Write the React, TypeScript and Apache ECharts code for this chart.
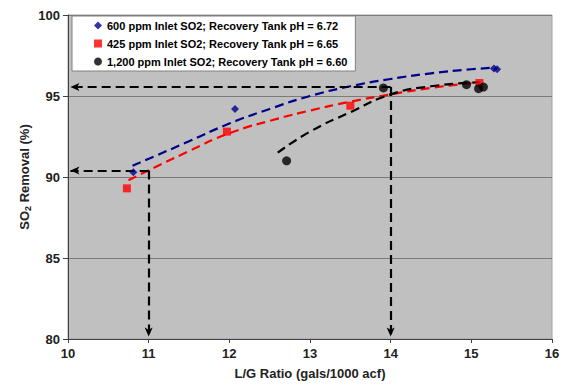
import React, { useEffect, useRef } from "react";
import * as echarts from "echarts";

const seriesNames = [
  "600 ppm Inlet SO2; Recovery Tank pH = 6.72",
  "425 ppm Inlet SO2; Recovery Tank pH = 6.65",
  "1,200 ppm Inlet SO2; Recovery Tank pH = 6.60",
];

const points600: [number, number][] = [
  [10.81, 90.3],
  [12.07, 94.2],
  [15.28, 96.7],
  [15.32, 96.65],
];
const points425: [number, number][] = [
  [10.73, 89.3],
  [11.97, 92.8],
  [13.5, 94.4],
  [15.1, 95.8],
];
const points1200: [number, number][] = [
  [12.71, 91.0],
  [13.91, 95.5],
  [14.94, 95.7],
  [15.09, 95.45],
  [15.15, 95.55],
];

const trend600: [number, number][] = [
  [10.8, 90.7], [11.5, 92.2], [12.0, 93.3], [12.5, 94.2], [13.0, 95.0],
  [13.5, 95.6], [14.0, 96.05], [14.5, 96.4], [15.0, 96.65], [15.3, 96.75],
];
const trend425: [number, number][] = [
  [10.75, 89.8], [11.5, 91.6], [12.0, 92.7], [12.6, 93.6], [13.0, 94.1],
  [13.5, 94.65], [14.0, 95.1], [14.5, 95.5], [15.1, 95.85],
];
const trend1200: [number, number][] = [
  [12.6, 91.5], [13.0, 92.8], [13.5, 94.0], [14.0, 95.1], [14.5, 95.6], [15.1, 95.85],
];

const refLines: [number, number][][] = [
  [[14.0, 95.55], [10.03, 95.55]],
  [[14.0, 95.55], [14.0, 80.15]],
  [[11.0, 90.4], [10.03, 90.4]],
  [[11.0, 90.4], [11.0, 80.15]],
];

const colors = ["#00008B", "#FF0000", "#000000"];
const FONT = "Arial, 'Liberation Sans', sans-serif";

export default function App() {
  const ref = useRef<HTMLDivElement>(null);
  useEffect(() => {
    document.body.style.margin = "0";
    if (!ref.current) return;
    const chart = echarts.init(ref.current, null, { renderer: "svg" });
    const dashed = { type: [9, 5] as any, width: 2.2 };
    chart.setOption({
      animation: false,
      textStyle: { fontFamily: FONT },
      grid: {
        left: 68,
        top: 15,
        width: 484,
        height: 324,
        show: true,
        backgroundColor: "#C0C0C0",
        borderColor: "#A0A0A0",
        borderWidth: 1,
      },
      legend: {
        data: seriesNames,
        orient: "vertical",
        left: 72,
        top: 16,
        backgroundColor: "#FFFFFF",
        borderColor: "#808080",
        borderWidth: 1,
        borderRadius: 0,
        padding: [4, 8, 4, 22],
        itemGap: 7,
        itemWidth: 8,
        itemHeight: 8,
        textStyle: { fontFamily: FONT, fontWeight: "bold", fontSize: 11, color: "#000" },
      },
      xAxis: {
        type: "value",
        min: 10,
        max: 16,
        interval: 1,
        name: "L/G Ratio (gals/1000 acf)",
        nameLocation: "middle",
        nameGap: 28,
        nameMoveOverlap: false,
        nameTextStyle: { fontFamily: FONT, fontWeight: "bold", fontSize: 13, color: "#222" },
        axisLine: { show: true, lineStyle: { color: "#404040", width: 1 } },
        axisTick: { show: true, length: 4, lineStyle: { color: "#404040" } },
        axisLabel: { fontFamily: FONT, fontWeight: "bold", fontSize: 13, color: "#222", margin: 8 },
        splitLine: { show: false },
      },
      yAxis: {
        type: "value",
        min: 80,
        max: 100,
        interval: 5,
        name: "{a|SO}{s|2}{a| Removal (%)}",
        nameLocation: "middle",
        nameGap: 36,
        nameMoveOverlap: false,
        nameTextStyle: {
          rich: {
            a: { fontFamily: FONT, fontWeight: "bold", fontSize: 13, color: "#222" },
            s: { fontFamily: FONT, fontWeight: "bold", fontSize: 9, color: "#222", verticalAlign: "bottom", padding: [6, 0, 0, 0] },
          },
        },
        axisLine: { show: true, lineStyle: { color: "#404040", width: 1 } },
        axisTick: { show: true, length: 5, lineStyle: { color: "#404040" } },
        axisLabel: { fontFamily: FONT, fontWeight: "bold", fontSize: 13, color: "#222", margin: 8 },
        splitLine: { show: true, lineStyle: { color: "#7A7A7A", width: 1 } },
      },
      series: [
        ...refLines.map((seg) => ({
          type: "line",
          data: [],
          silent: true,
          markLine: {
            silent: true,
            symbol: ["none", "arrow"],
            symbolSize: [6, 9],
            label: { show: false },
            lineStyle: { color: "#000", type: [9, 5], width: 2.2 },
            data: [[{ coord: seg[0] }, { coord: seg[1] }]],
          },
        })),
        {
          type: "line",
          data: trend600,
          smooth: true,
          showSymbol: false,
          silent: true,
          lineStyle: { ...dashed, color: colors[0] },
          z: 3,
        },
        {
          type: "line",
          data: trend425,
          smooth: true,
          showSymbol: false,
          silent: true,
          lineStyle: { ...dashed, color: colors[1] },
          z: 3,
        },
        {
          type: "line",
          data: trend1200,
          smooth: true,
          showSymbol: false,
          silent: true,
          lineStyle: { ...dashed, color: colors[2] },
          z: 3,
        },
        {
          name: seriesNames[0],
          type: "scatter",
          data: points600,
          symbol: "diamond",
          symbolSize: 8,
          itemStyle: { color: colors[0] },
          z: 5,
        },
        {
          name: seriesNames[1],
          type: "scatter",
          data: points425,
          symbol: "rect",
          symbolSize: 8,
          itemStyle: { color: colors[1] },
          z: 5,
        },
        {
          name: seriesNames[2],
          type: "scatter",
          data: points1200,
          symbol: "circle",
          symbolSize: 9,
          itemStyle: { color: colors[2] },
          z: 5,
        },
      ],
    });
    return () => chart.dispose();
  }, []);
  return <div ref={ref} style={{ width: 564, height: 388 }} />;
}
